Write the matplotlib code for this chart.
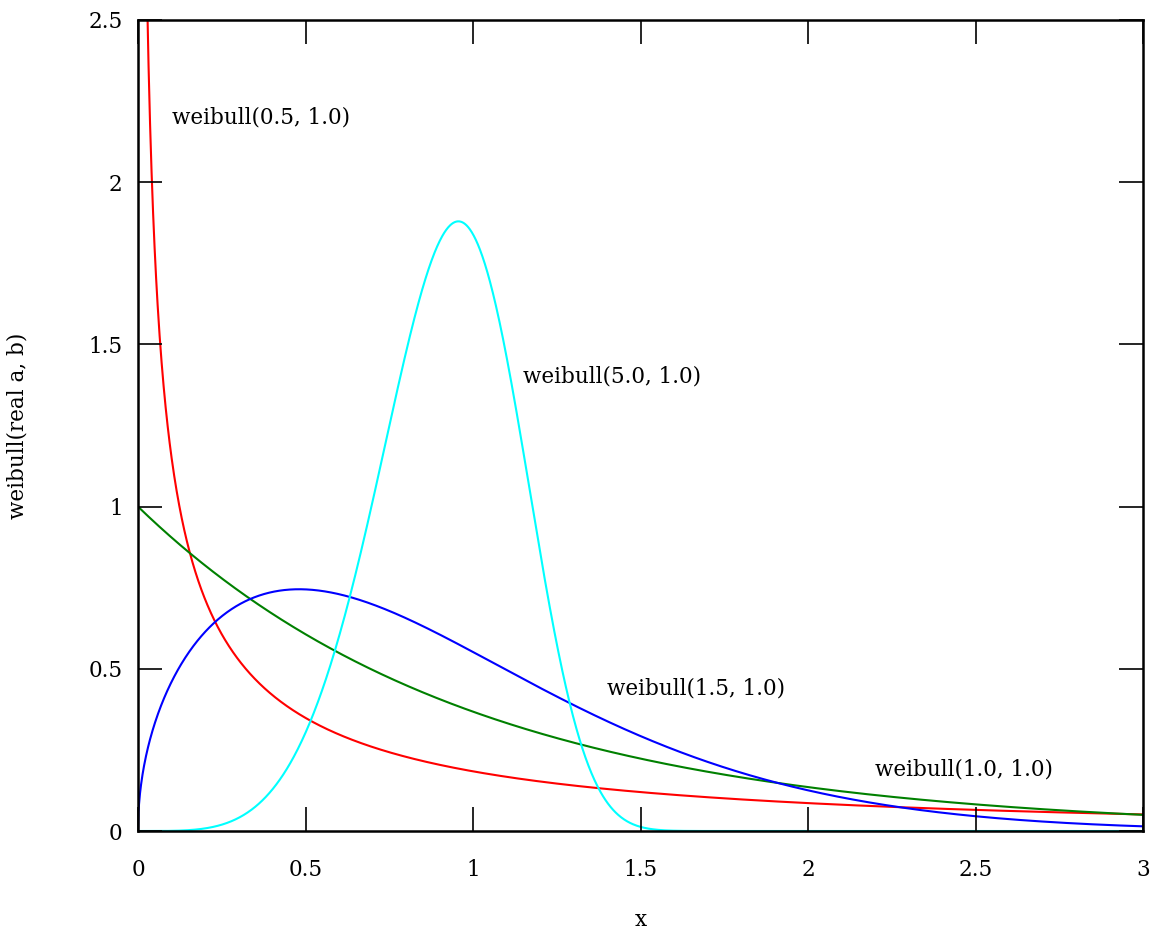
import numpy as np
import matplotlib
matplotlib.use("Agg")
import matplotlib.pyplot as plt

# Weibull parameters (shape a, scale b)
shapes = [0.5, 1.0, 1.5, 5.0]
scales = [1.0, 1.0, 1.0, 1.0]
colors = ["#ff0000", "#008000", "#0000ff", "#00ffff"]
labels = ["weibull(0.5, 1.0)", "weibull(1.0, 1.0)", "weibull(1.5, 1.0)", "weibull(5.0, 1.0)"]
label_x = [0.10, 2.20, 1.40, 1.15]
label_y = [2.20, 0.19, 0.44, 1.40]

xticks = [0, 0.5, 1, 1.5, 2, 2.5, 3]
xtick_labels = ["0", "0.5", "1", "1.5", "2", "2.5", "3"]
yticks = [0, 0.5, 1, 1.5, 2, 2.5]
ytick_labels = ["0", "0.5", "1", "1.5", "2", "2.5"]

plt.rcParams['font.family'] = ['DejaVu Serif']
FS = 15.5

fig = plt.figure(figsize=(11.55, 9.33), dpi=100)
ax = fig.add_axes([138/1155, 1-831/933, (1143-138)/1155, (831-20)/933])

x = np.linspace(1e-6, 3, 2000)
for a, b, c in zip(shapes, scales, colors):
    y = a / b * (x / b) ** (a - 1) * np.exp(-(x / b) ** a)
    ax.plot(x, y, color=c, lw=1.5, zorder=1.5)

for t, lx, ly in zip(labels, label_x, label_y):
    ax.text(lx, ly, t, ha='left', va='center', fontsize=FS)

ax.set_xlim(0, 3)
ax.set_ylim(0, 2.5)
ax.set_xticks(xticks)
ax.set_xticklabels(xtick_labels)
ax.set_yticks(yticks)
ax.set_yticklabels(ytick_labels)
ax.tick_params(direction='in', length=17, width=1.2, top=True, right=True,
               labelsize=FS)
ax.tick_params(axis='x', pad=20)
ax.tick_params(axis='y', pad=11)
for s in ax.spines.values():
    s.set_linewidth(1.8)
    s.set_zorder(3)
ax.set_xlabel("x", fontsize=FS, labelpad=20)
ax.set_ylabel("weibull(real a, b)", fontsize=FS, labelpad=43)

fig.savefig("out.png", dpi=100)
